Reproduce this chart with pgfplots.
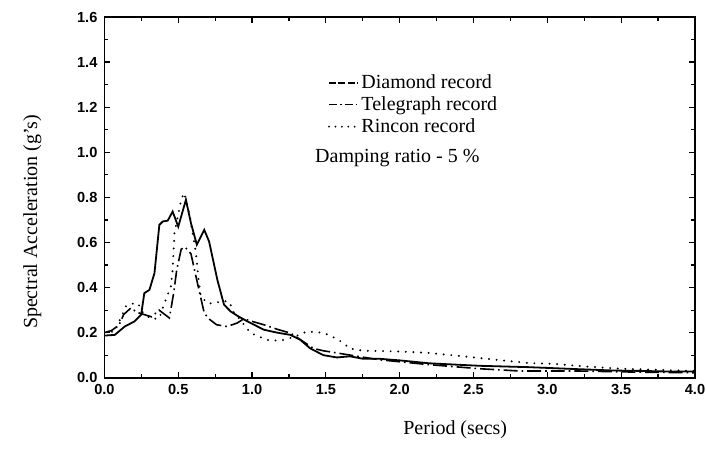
\documentclass[border=0pt]{standalone}
\usepackage{pgfplots}
\pgfplotsset{compat=1.18}
\usepackage{fontspec}
\setmainfont{Liberation Serif}
\setsansfont{Liberation Sans}

\begin{document}
\begin{tikzpicture}
\useasboundingbox (-52.25pt,-37pt) rectangle (301pt,189pt);
\begin{axis}[
  scale only axis,
  width=295.5pt, height=180.5pt,
  xmin=0, xmax=4, ymin=0, ymax=1.6,
  xtick={0,0.5,...,4}, ytick={0,0.2,...,1.6},
  minor x tick num=1, minor y tick num=1,
  tick align=inside, major tick length=3pt, minor tick length=2pt,
  axis line style={line width=0.8pt}, every tick/.style={line width=0.6pt, black},
  xticklabel style={/pgf/number format/.cd, fixed, fixed zerofill, precision=1, assume math mode=true},
  yticklabel style={/pgf/number format/.cd, fixed, fixed zerofill, precision=1, assume math mode=true},
  ticklabel style={font=\sffamily\bfseries\fontsize{7.3}{8}\selectfont},
  xlabel={Period (secs)}, ylabel={Spectral Acceleration (g's)},
  label style={font=\fontsize{10}{11}\selectfont},
  xlabel style={at={(axis description cs:0.594,-0.144)}, anchor=center},
  ylabel style={at={(axis description cs:-0.122,0.432)}, anchor=center},
  legend style={at={(axis description cs:0.378,0.85)}, anchor=north west,
    draw=none, fill=none, font=\fontsize{10}{11}\selectfont,
    row sep=-0.5pt, inner sep=0pt, nodes={inner sep=1.5pt}},
  legend cell align=left,
]
% Diamond record
\addplot[black, line width=0.9pt,
  legend image code/.code={\draw[line width=0.7pt, dash pattern=on 3.5pt off 1.2pt] (0cm,0cm) -- (0.5cm,0cm);}]
  coordinates {(0,0.187) (0.07,0.19) (0.137,0.227) (0.204,0.25) (0.249,0.28) (0.27,0.375)
  (0.305,0.39) (0.339,0.464) (0.372,0.678) (0.395,0.693) (0.429,0.697) (0.462,0.737)
  (0.5,0.67) (0.552,0.789) (0.586,0.686) (0.626,0.59) (0.676,0.656) (0.709,0.604)
  (0.765,0.434) (0.81,0.324) (0.855,0.294) (0.9,0.275) (0.968,0.25) (1.08,0.213)
  (1.17,0.2) (1.26,0.19) (1.327,0.168) (1.394,0.13) (1.484,0.1) (1.574,0.09)
  (1.663,0.095) (1.753,0.084) (1.865,0.084) (2.0,0.077) (2.2,0.064) (2.54,0.053)
  (2.87,0.047) (3.21,0.038) (3.45,0.032) (3.66,0.03) (3.85,0.027) (4.0,0.028)};
\addlegendentry{Diamond record}
% Telegraph record
\addplot[black, line width=0.8pt, dash pattern=on 7pt off 2pt on 0.8pt off 2pt,
  legend image code/.code={\draw[line width=0.7pt, dash pattern=on 4pt off 1.5pt on 0.8pt off 1.5pt] (0cm,0cm) -- (0.5cm,0cm);}]
  coordinates {(0,0.2) (0.05,0.21) (0.1,0.235) (0.13,0.28) (0.18,0.31) (0.22,0.29)
  (0.27,0.28) (0.32,0.27) (0.37,0.3) (0.44,0.265) (0.47,0.38) (0.49,0.48) (0.52,0.57)
  (0.545,0.58) (0.586,0.55) (0.63,0.42) (0.675,0.29) (0.70,0.265) (0.76,0.235)
  (0.83,0.227) (0.9,0.243) (0.945,0.262) (1.0,0.25) (1.08,0.235) (1.17,0.215)
  (1.26,0.198) (1.416,0.13) (1.48,0.12) (1.62,0.105) (1.86,0.08) (2.2,0.058)
  (2.54,0.04) (2.81,0.03) (3.2,0.03) (3.6,0.025) (4.0,0.022)};
\addlegendentry{Telegraph record}
% Rincon record
\addplot[black, line width=1.1pt, line cap=round, dash pattern=on 0pt off 3.8pt,
  legend image code/.code={\draw[line width=1pt, line cap=round, dash pattern=on 0pt off 3.2pt] (0cm,0cm) -- (0.5cm,0cm);}]
  coordinates {(0,0.2) (0.07,0.205) (0.148,0.32) (0.2,0.33) (0.227,0.33) (0.26,0.29)
  (0.316,0.26) (0.372,0.264) (0.406,0.33) (0.45,0.405) (0.462,0.48) (0.474,0.64)
  (0.52,0.79) (0.54,0.82) (0.575,0.73) (0.597,0.64) (0.62,0.553) (0.635,0.45)
  (0.653,0.36) (0.70,0.33) (0.74,0.33) (0.8,0.34) (0.844,0.338) (0.877,0.29)
  (0.92,0.257) (0.99,0.198) (1.046,0.183) (1.1,0.168) (1.19,0.164) (1.28,0.18)
  (1.37,0.205) (1.48,0.2) (1.55,0.18) (1.62,0.154) (1.66,0.13) (1.75,0.12)
  (1.98,0.117) (2.2,0.11) (2.43,0.095) (2.65,0.08) (2.875,0.065) (3.03,0.062)
  (3.26,0.05) (3.5,0.04) (4.0,0.03)};
\addlegendentry{Rincon record}
\node[anchor=west, font=\fontsize{10}{11}\selectfont] at (axis description cs:0.345,0.61) {Damping ratio - 5 \%};
\end{axis}
\end{tikzpicture}
\end{document}
